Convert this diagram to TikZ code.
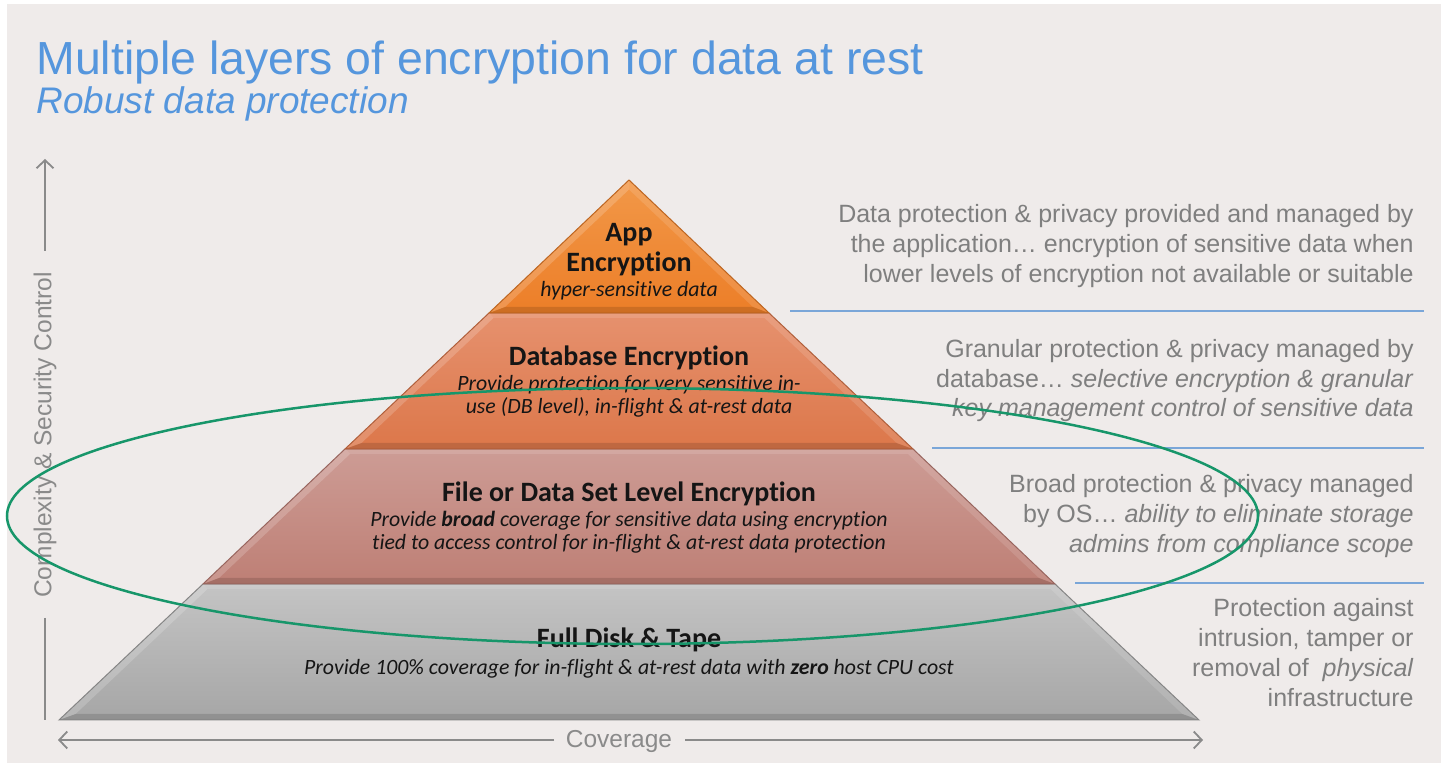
\documentclass[tikz,border=0pt]{standalone}
\usepackage{fontspec}
\setmainfont{Liberation Sans}
\newfontfamily\calfont[Ligatures=NoCommon]{Carlito}
\usetikzlibrary{arrows.meta}
\definecolor{bg}{HTML}{EFEBEA}
\definecolor{titleblue}{HTML}{5596DD}
\definecolor{sepblue}{HTML}{7AA6D8}
\definecolor{rgrey}{HTML}{7F7F7F}
\definecolor{axgrey}{HTML}{8A8A8A}
\definecolor{ink}{HTML}{151515}
\definecolor{ringgreen}{HTML}{17966A}
\definecolor{appT}{HTML}{F29848}
\definecolor{appB}{HTML}{EC7E28}
\definecolor{dbT}{HTML}{E6916E}
\definecolor{dbB}{HTML}{DC774A}
\definecolor{fiT}{HTML}{CD9C95}
\definecolor{fiB}{HTML}{BE7F75}
\definecolor{fdT}{HTML}{C4C4C4}
\definecolor{fdB}{HTML}{A6A6A6}
\tikzset{
  rtext/.style={anchor=base east, inner sep=0pt, font=\fontsize{12.5}{14}\selectfont, text=rgrey},
  ptitle/.style={anchor=base, inner sep=0pt, font=\calfont\bfseries\fontsize{14}{16}\selectfont, text=ink},
  pitem/.style={anchor=base, inner sep=0pt, font=\calfont\itshape\fontsize{10.9}{12}\selectfont, text=ink},
  sepline/.style={draw=sepblue, line width=1pt},
  axisline/.style={draw=axgrey, line width=0.9pt},
  axtip/.style={-{Straight Barb[length=4pt,width=8.5pt,line width=0.9pt]}},
  axlabel/.style={inner sep=0pt, font=\fontsize{12.25}{14}\selectfont, text=axgrey},
  lightstrip/.style={fill=white, fill opacity=0.18},
  darkstrip/.style={fill=black, fill opacity=0.13},
}
\begin{document}
\begin{tikzpicture}[x=0.5pt,y=-0.5pt]
\useasboundingbox (0,0) rectangle (1441,763);
\fill[white] (0,0) rectangle (1441,763);
\fill[bg] (7,4) rectangle (1441,763);

% title
\node[anchor=base west, inner sep=0pt, font=\fontsize{23.2}{26}\selectfont, text=titleblue] (title) at (36,75) {Multiple layers of encryption for data at rest};
\node[anchor=base west, inner sep=0pt, font=\itshape\fontsize{18.5}{22}\selectfont, text=titleblue] (subtitle) at (36,114) {Robust data protection};

% pyramid coordinates
\coordinate (apex) at (629,180);
\coordinate (a1) at (489,313); \coordinate (b1) at (769,313);
\coordinate (a2) at (345,449); \coordinate (b2) at (913,449);
\coordinate (a3) at (203,584); \coordinate (b3) at (1055,584);
\coordinate (a4) at (59,720);  \coordinate (b4) at (1199,720);

% Full disk layer
\shade[top color=fdT, bottom color=fdB] (a3) -- (b3) -- (b4) -- (a4) -- cycle;
\fill[lightstrip] (a3) -- (a4) -- (75.6,714) -- (207.5,589) -- cycle;
\fill[lightstrip, fill opacity=0.12] (b3) -- (b4) -- (1182.4,714) -- (1050.5,589) -- cycle;
\fill[lightstrip, fill opacity=0.12] (a3) -- (b3) -- (1050.5,589) -- (207.5,589) -- cycle;
\fill[darkstrip] (a4) -- (b4) -- (1182.4,714) -- (75.6,714) -- cycle;
\draw[fdB!80!black, line width=0.5pt] (a3) -- (b3) -- (b4) -- (a4) -- cycle;

% File layer
\shade[top color=fiT, bottom color=fiB] (a2) -- (b2) -- (b3) -- (a3) -- cycle;
\fill[lightstrip] (a2) -- (a3) -- (219,578) -- (350,454) -- cycle;
\fill[lightstrip, fill opacity=0.12] (b2) -- (b3) -- (1039,578) -- (908,454) -- cycle;
\fill[lightstrip, fill opacity=0.12] (a2) -- (b2) -- (908,454) -- (350,454) -- cycle;
\fill[darkstrip] (a3) -- (b3) -- (1039,578) -- (219,578) -- cycle;
\draw[fiB!80!black, line width=0.5pt] (a2) -- (b2) -- (b3) -- (a3) -- cycle;

% Database layer
\shade[top color=dbT, bottom color=dbB] (a1) -- (b1) -- (b2) -- (a2) -- cycle;
\fill[lightstrip] (a1) -- (a2) -- (361.5,443) -- (493.4,318) -- cycle;
\fill[lightstrip, fill opacity=0.12] (b1) -- (b2) -- (896.5,443) -- (764.6,318) -- cycle;
\fill[lightstrip, fill opacity=0.12] (a1) -- (b1) -- (764.6,318) -- (493.4,318) -- cycle;
\fill[darkstrip] (a2) -- (b2) -- (896.5,443) -- (361.5,443) -- cycle;
\draw[dbB!80!black, line width=0.5pt] (a1) -- (b1) -- (b2) -- (a2) -- cycle;

% App layer
\shade[top color=appT, bottom color=appB] (apex) -- (b1) -- (a1) -- cycle;
\fill[lightstrip] (apex) -- (a1) -- (505,307) -- (629,189.5) -- cycle;
\fill[lightstrip, fill opacity=0.12] (apex) -- (b1) -- (753,307) -- (629,189.5) -- cycle;
\fill[darkstrip] (a1) -- (b1) -- (753,307) -- (505,307) -- cycle;
\draw[appB!80!black, line width=0.5pt] (apex) -- (b1) -- (a1) -- cycle;

% pyramid texts
\node[ptitle] (appA) at (629,242) {App};
\node[ptitle] (appB) at (629,272) {Encryption};
\node[pitem]  (appC) at (629,297) {hyper-sensitive data};

\node[ptitle] (dbA) at (629,366) {Database Encryption};
\node[pitem]  (dbB) at (629,391) {Provide protection for very sensitive in-};
\node[pitem]  (dbC) at (629,414) {use (DB level), in-flight \& at-rest data};

\node[ptitle] (fiA) at (629,502) {File or Data Set Level Encryption};
\node[pitem]  (fiB) at (629,527) {Provide \textbf{broad} coverage for sensitive data using encryption};
\node[pitem]  (fiC) at (629,550) {tied to access control for in-flight \& at-rest data protection};

\node[ptitle] (fdA) at (629,648) {Full Disk \& Tape};
\node[pitem]  (fdB) at (629,675) {Provide 100\% coverage for in-flight \& at-rest data with \textbf{zero} host CPU cost};

% right descriptions
\node[rtext] (r1a) at (1414,223) {Data protection \& privacy provided and managed by};
\node[rtext] (r1b) at (1414,253) {the application… encryption of sensitive data when};
\node[rtext] (r1c) at (1414,283) {lower levels of encryption not available or suitable};

\node[rtext] (r2a) at (1414,358) {Granular protection \& privacy managed by};
\node[rtext] (r2b) at (1414,388) {database… \textit{selective encryption \& granular}};
\node[rtext] (r2c) at (1414,417) {\textit{key management control of sensitive data}};

\node[rtext] (r3a) at (1414,493) {Broad protection \& privacy managed};
\node[rtext] (r3b) at (1414,523) {by OS… \textit{ability to eliminate storage}};
\node[rtext] (r3c) at (1414,553) {\textit{admins from compliance scope}};

\node[rtext] (r4a) at (1414,617) {Protection against};
\node[rtext] (r4b) at (1414,647) {intrusion, tamper or};
\node[rtext] (r4c) at (1414,677) {removal of \ \textit{physical}};
\node[rtext] (r4d) at (1414,707) {infrastructure};

% separators
\coordinate (s1l) at (790,311); \coordinate (s1r) at (1424,311);
\coordinate (s2l) at (932,448); \coordinate (s2r) at (1424,448);
\coordinate (s3l) at (1075,583); \coordinate (s3r) at (1424,583);
\draw[sepline] (s1l) -- (s1r);
\draw[sepline] (s2l) -- (s2r);
\draw[sepline] (s3l) -- (s3r);

% vertical axis
\node[axlabel, rotate=90] (ylab) at (45,435) {Complexity \& Security Control};
\coordinate (vtip) at (45,159);
\coordinate (vtopend) at (45,251);
\coordinate (vbotstart) at (45,618);
\coordinate (vbotend) at (45,720);
\draw[axisline, axtip] (vtopend) -- (vtip);
\draw[axisline] (vbotstart) -- (vbotend);

% horizontal axis
\node[axlabel] (xlab) at (619,741) {Coverage};
\coordinate (hltip) at (58,740);
\coordinate (hlend) at (554,740);
\coordinate (hrstart) at (685,740);
\coordinate (hrtip) at (1203,740);
\draw[axisline, axtip] (hlend) -- (hltip);
\draw[axisline, axtip] (hrstart) -- (hrtip);

% green ellipse
\coordinate (ringc) at (632.5,516);
\draw[ringgreen, line width=1.25pt] (ringc) ellipse [x radius=625.5, y radius=128];
\end{tikzpicture}
\end{document}
